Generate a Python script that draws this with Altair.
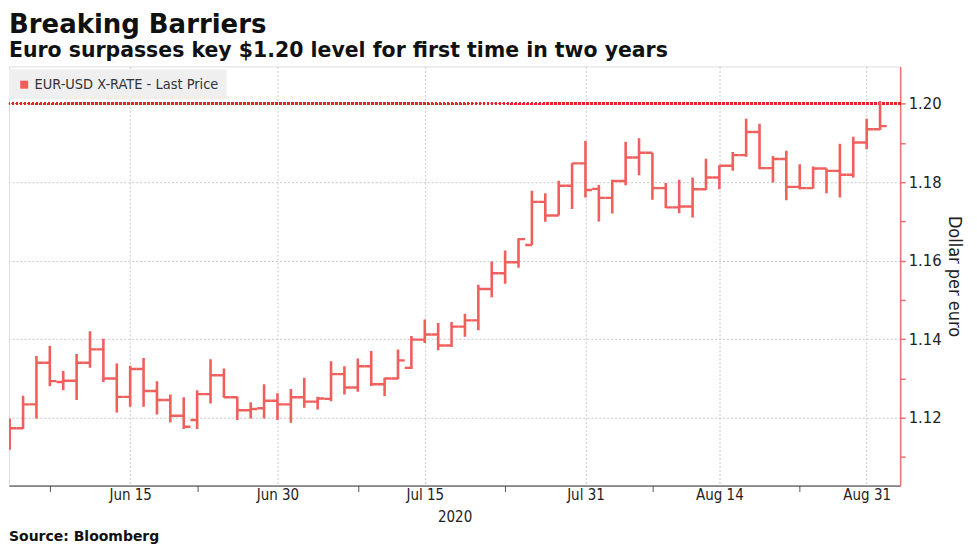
import altair as alt
import pandas as pd

title_text = "Breaking Barriers"
subtitle_text = "Euro surpasses key $1.20 level for first time in two years"
series_name = "EUR-USD X-RATE - Last Price"
source_text = "Source: Bloomberg"
y_title = "Dollar per euro"
x_title = "2020"

opens = [1.1135, 1.1173, 1.1234, 1.1340, 1.1291, 1.1294, 1.1340, 1.1374, 1.1300, 1.1253,
         1.1324, 1.1268, 1.1245, 1.1205, 1.1194, 1.1260, 1.1308, 1.1252, 1.1219, 1.1224,
         1.1243, 1.1234, 1.1252, 1.1241, 1.1248, 1.1311, 1.1277, 1.1331, 1.1285, 1.1300,
         1.1327, 1.1399, 1.1412, 1.1384, 1.1432, 1.1448, 1.1528, 1.1568, 1.1596, 1.1640,
         1.1750, 1.1715, 1.1791, 1.1848, 1.1783, 1.1760, 1.1803, 1.1863, 1.1875, 1.1785,
         1.1736, 1.1738, 1.1782, 1.1812, 1.1842, 1.1869, 1.1928, 1.1836, 1.1859, 1.1788,
         1.1785, 1.1835, 1.1829, 1.1819, 1.1901, 1.1935]
highs = [1.1198, 1.1256, 1.1357, 1.1383, 1.1319, 1.1362, 1.1420, 1.1401, 1.1338, 1.1332,
         1.1352, 1.1293, 1.1259, 1.1252, 1.1270, 1.1349, 1.1325, 1.1253, 1.1239, 1.1285,
         1.1262, 1.1273, 1.1302, 1.1253, 1.1344, 1.1331, 1.1351, 1.1370, 1.1302, 1.1374,
         1.1408, 1.1450, 1.1441, 1.1444, 1.1465, 1.1539, 1.1598, 1.1626, 1.1657, 1.1778,
         1.1772, 1.1804, 1.1848, 1.1905, 1.1793, 1.1806, 1.1903, 1.1912, 1.1875, 1.1798,
         1.1806, 1.1812, 1.1860, 1.1843, 1.1877, 1.1962, 1.1949, 1.1867, 1.1880, 1.1846,
         1.1840, 1.1835, 1.1898, 1.1916, 1.1962, 1.2007]
lows = [1.1118, 1.1171, 1.1198, 1.1280, 1.1270, 1.1245, 1.1327, 1.1291, 1.1213, 1.1228,
        1.1228, 1.1208, 1.1188, 1.1171, 1.1171, 1.1236, 1.1251, 1.1194, 1.1198, 1.1198,
        1.1194, 1.1187, 1.1225, 1.1221, 1.1242, 1.1259, 1.1266, 1.1281, 1.1255, 1.1298,
        1.1324, 1.1390, 1.1372, 1.1380, 1.1406, 1.1423, 1.1507, 1.1541, 1.1582, 1.1640,
        1.1699, 1.1715, 1.1732, 1.1761, 1.1700, 1.1720, 1.1792, 1.1818, 1.1755, 1.1734,
        1.1721, 1.1710, 1.1780, 1.1782, 1.1829, 1.1865, 1.1833, 1.1799, 1.1754, 1.1782,
        1.1784, 1.1772, 1.1761, 1.1812, 1.1884, 1.1933]
closes = [1.1173, 1.1234, 1.1340, 1.1293, 1.1294, 1.1340, 1.1374, 1.1300, 1.1253, 1.1324,
          1.1268, 1.1245, 1.1205, 1.1177, 1.1260, 1.1308, 1.1252, 1.1219, 1.1222, 1.1243,
          1.1234, 1.1252, 1.1241, 1.1249, 1.1311, 1.1277, 1.1331, 1.1285, 1.1300, 1.1346,
          1.1399, 1.1412, 1.1384, 1.1432, 1.1448, 1.1528, 1.1568, 1.1596, 1.1655, 1.1750,
          1.1715, 1.1791, 1.1848, 1.1780, 1.1760, 1.1803, 1.1863, 1.1875, 1.1785, 1.1736,
          1.1738, 1.1782, 1.1812, 1.1842, 1.1869, 1.1928, 1.1836, 1.1859, 1.1788, 1.1785,
          1.1835, 1.1829, 1.1819, 1.1901, 1.1935, 1.1943]

trading_days = pd.bdate_range("2020-06-02", "2020-09-01").strftime("%Y-%m-%d").tolist()
label_dates = ["2020-06-15", "2020-06-30", "2020-07-15", "2020-07-31", "2020-08-14", "2020-08-31"]
label_texts = ["Jun 15", "Jun 30", "Jul 15", "Jul 31", "Aug 14", "Aug 31"]
separator_days = [3, 14, 26, 37, 48, 59]
y_tick_values = [1.11, 1.12, 1.13, 1.14, 1.15, 1.16, 1.17, 1.18, 1.19, 1.20]
threshold = 1.20

BAR = "#f15f5c"
AXIS_RED = "#f07070"
LINE_RED = "#e4262a"
GRID = "#c9c9c9"
FONT = "DejaVu Sans"
FONT_C = "DejaVu Sans Condensed"

df = pd.DataFrame({
    "i": list(range(len(opens))),
    "date": trading_days[:len(opens)],
    "open": opens, "high": highs, "low": lows, "close": closes,
    "series": series_name,
})

label_idx = [trading_days.index(d) for d in label_dates]
label_expr = ""
for idx, txt in zip(label_idx, label_texts):
    label_expr += f"datum.value == {idx} ? '{txt}' : "
label_expr += "''"
label_list = "[" + ",".join(str(v) for v in label_idx) + "]"

x_scale = alt.Scale(domain=[-0.05, 66.5], nice=False, zero=False)
y_scale = alt.Scale(domain=[1.1027, 1.2095], nice=False, zero=False)

x_axis = alt.Axis(
    values=sorted(label_idx + separator_days),
    labelExpr=label_expr,
    title=x_title,
    titleFont=FONT_C, titleFontSize=15, titleFontWeight="normal", titleColor="#222",
    titlePadding=7,
    labelFont=FONT_C, labelFontSize=15, labelColor="#222", labelPadding=-4,
    labelAngle=0, labelFlush=False, labelOverlap=False,
    domainColor="#333", domainWidth=1,
    tickSize=6, tickWidth=1,
    tickColor={"condition": {"test": f"indexof({label_list}, datum.value) >= 0", "value": "rgba(0,0,0,0)"}, "value": "#555"},
    grid=True,
    gridColor={"condition": {"test": f"indexof({label_list}, datum.value) >= 0", "value": GRID}, "value": "rgba(0,0,0,0)"},
    gridDash=[2, 2], gridWidth=1,
)

y_axis = alt.Axis(
    orient="right",
    values=y_tick_values,
    labelExpr="round(datum.value * 100) % 2 == 0 ? format(datum.value, '.2f') : ''",
    title=y_title,
    titleFont=FONT_C, titleFontSize=18, titleFontWeight="normal", titleColor="#222",
    titlePadding=3, titleAngle=90,
    labelFont=FONT_C, labelFontSize=16.5, labelColor="#222", labelPadding=3,
    domainColor=AXIS_RED, domainWidth=1.5,
    tickColor=AXIS_RED, tickSize=5, tickWidth=1.5,
    grid=True,
    gridColor={"condition": {"test": "round(datum.value * 100) % 2 == 0", "value": GRID}, "value": "rgba(0,0,0,0)"},
    gridDash=[2, 2], gridWidth=1,
)

base = alt.Chart(df).transform_calculate(xl="datum.i - 0.5", xr="datum.i + 0.5")

verticals = base.mark_rule(strokeWidth=2.6, clip=True).encode(
    x=alt.X("i:Q", scale=x_scale, axis=x_axis),
    y=alt.Y("low:Q", scale=y_scale, axis=y_axis),
    y2="high:Q",
    color=alt.Color("series:N", scale=alt.Scale(range=[BAR]),
                    legend=alt.Legend(
                        title=None, orient="none", legendX=0, legendY=3,
                        fillColor="#efefef", padding=8,
                        symbolType="square", symbolSize=64,
                        symbolFillColor=BAR, symbolStrokeColor=BAR, symbolStrokeWidth=0,
                        labelFont=FONT_C, labelFontSize=14.5, labelColor="#333",
                        labelLimit=400, labelOffset=3)),
    tooltip=["date:N", "open:Q", "high:Q", "low:Q", "close:Q"],
)

open_ticks = base.mark_rule(strokeWidth=2.4, color=BAR, clip=True).encode(
    x="xl:Q", x2="i:Q", y="open:Q",
)
close_ticks = base.mark_rule(strokeWidth=2.4, color=BAR, clip=True).encode(
    x="i:Q", x2="xr:Q", y="close:Q",
)

level_line = alt.Chart(df).mark_rule(color=LINE_RED, strokeWidth=2, strokeDash=[2, 2]).encode(
    y=alt.datum(threshold),
)

source_mark = alt.Chart(pd.DataFrame({"t": [source_text]})).mark_text(
    align="left", baseline="middle", font=FONT, fontSize=14, fontWeight="bold", color="#111",
).encode(text="t:N", x=alt.value(0), y=alt.value(472))

chart = alt.layer(level_line, verticals, open_ticks, close_ticks, source_mark).properties(
    width=893, height=420,
    padding={"left": 0, "top": 3, "right": 6, "bottom": 0},
    title=alt.TitleParams(
        text=title_text, subtitle=subtitle_text, anchor="start", frame="group",
        font=FONT, fontSize=26, fontWeight="bold", color="#111",
        subtitleFont=FONT, subtitleFontSize=20.5, subtitleFontWeight="bold", subtitleColor="#111",
        subtitlePadding=3, offset=5,
    ),
).configure_view(stroke=None).configure(background="white")

chart.save("out.html", embed_options={"renderer": "svg", "actions": False})
